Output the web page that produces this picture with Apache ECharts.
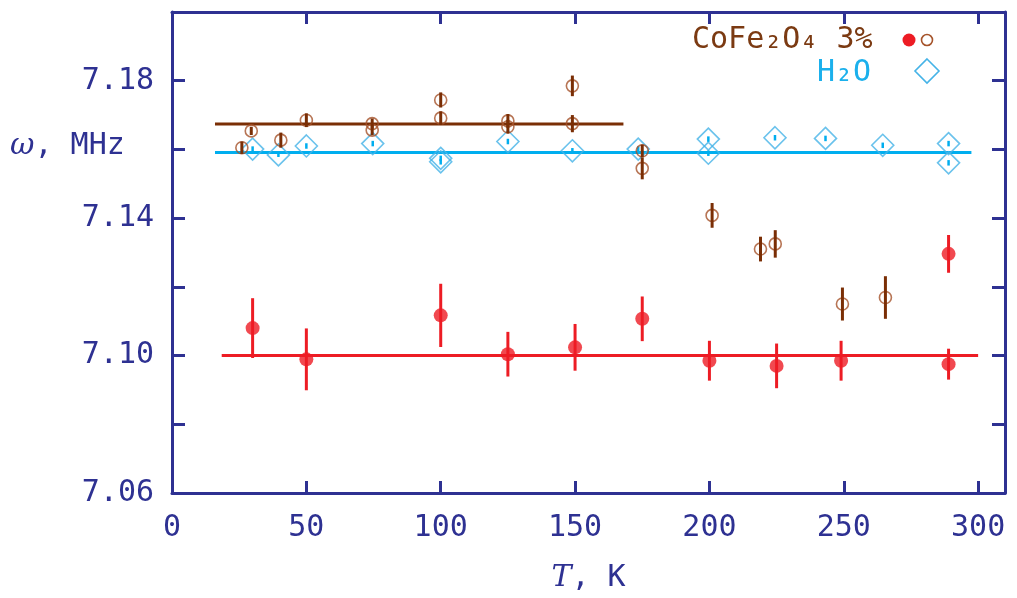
<!DOCTYPE html>
<html>
<head>
<meta charset="utf-8">
<script src="https://cdn.jsdelivr.net/npm/echarts@6/dist/echarts.min.js"></script>
<style>html,body{margin:0;padding:0;background:#fff}#c{width:1017px;height:598px}</style>
</head>
<body>
<div id="c"></div>
<script>
// ---- data ----
const xTicks = [0, 50, 100, 150, 200, 250, 300];
const yTickLabels = ['7.06', '7.10', '7.14', '7.18'];

// CoFe2O4 3% — filled (red)
const redT   = [30, 50, 100, 125, 150, 175, 200, 225, 249, 289, 289];
const redW   = [7.1080, 7.0989, 7.1117, 7.1004, 7.1024, 7.1107, 7.0985, 7.0970, 7.0985, 7.0975, 7.1296];
const redErr = [0.0087, 0.0090, 0.0092, 0.0065, 0.0068, 0.0065, 0.0058, 0.0065, 0.0058, 0.0045, 0.0055];

// CoFe2O4 3% — open (brown)
const brownT   = [26, 29.5, 40.5, 50, 74.5, 74.5, 100, 100, 125, 125, 149, 149, 175, 175, 201, 219, 224.5, 249.5, 265.5];
const brownW   = [7.1605, 7.1654, 7.1627, 7.1685, 7.1675, 7.1656, 7.1744, 7.1691, 7.1683, 7.1666, 7.1785, 7.1675, 7.1596, 7.1545, 7.1408, 7.1310, 7.1325, 7.1150, 7.1169];
const brownErr = [0.0018, 0.0012, 0.0022, 0.0020, 0.0015, 0.0015, 0.0022, 0.0020, 0.0020, 0.0020, 0.0030, 0.0025, 0.0018, 0.0032, 0.0036, 0.0036, 0.0040, 0.0048, 0.0062];

// H2O (cyan diamonds)
const cyanT   = [30, 39.6, 50, 74.7, 100, 100, 125, 149, 173.5, 199.6, 199.6, 224.4, 243.2, 264.5, 289, 289];
const cyanW   = [7.1601, 7.1584, 7.1610, 7.1617, 7.1574, 7.1564, 7.1623, 7.1596, 7.1601, 7.1630, 7.1589, 7.1634, 7.1632, 7.1612, 7.1617, 7.1561];
const cyanErr = [0.0008, 0.0006, 0.0008, 0.0008, 0.0008, 0.0008, 0.0008, 0.0008, 0.0008, 0.0008, 0.0008, 0.0008, 0.0008, 0.0008, 0.0008, 0.0008];

// horizontal mean lines: [Tstart, Tend], level
const redFitT = [18.5, 300],  redFitW = 7.1000;
const brownFitT = [16, 168],  brownFitW = 7.1674;
const cyanFitT = [16, 297.5], cyanFitW = 7.1591;

// ---- styles ----
const NAVY = '#2e3192';
const RED = '#ed1c24';
const BROWN = '#7a2e05';
const BROWN_C = '#a5532a';
const CYAN = '#00aeef';
const CYAN_D = '#45b3e7';
const MONO = '"DejaVu Sans Mono", "Liberation Mono", monospace';

const zip3 = (a, b, c) => a.map((v, i) => [v, b[i], c[i]]);
const zip2 = (a, b) => a.map((v, i) => [v, b[i]]);

function errBar(color, width) {
  return function (params, api) {
    const x = api.value(0), y = api.value(1), e = api.value(2);
    const p1 = api.coord([x, y + e]), p2 = api.coord([x, y - e]);
    return { type: 'line', shape: { x1: p1[0], y1: p1[1], x2: p2[0], y2: p2[1] },
             style: { stroke: color, lineWidth: width } };
  };
}

const chart = echarts.init(document.getElementById('c'), null, { renderer: 'canvas' });

const yFmt = v => {
  const s = v.toFixed(2);
  return yTickLabels.indexOf(s) >= 0 ? s : '';
};
const xFmt = v => (xTicks.indexOf(Math.round(v)) >= 0 && Math.abs(v - Math.round(v)) < 1e-6) ? String(Math.round(v)) : '';

const axisLineStyle = { show: true, onZero: false, lineStyle: { color: NAVY, width: 3 } };

const option = {
  animation: false,
  backgroundColor: '#fff',
  grid: { left: 172, right: 12, top: 12, bottom: 105, show: false },
  xAxis: [{
    type: 'value', min: 0, max: 310, interval: 50, position: 'bottom',
    axisLine: axisLineStyle,
    axisTick: { show: true, inside: true, length: 12, lineStyle: { color: NAVY, width: 3 } },
    axisLabel: { formatter: xFmt, color: NAVY, fontFamily: MONO, fontSize: 30, margin: 20, showMaxLabel: false },
    splitLine: { show: false },
    name: '{i|T}, K', nameLocation: 'middle', nameGap: 70,
    nameTextStyle: { color: NAVY, fontFamily: MONO, fontSize: 30,
      rich: { i: { fontFamily: '"DejaVu Serif", serif', fontStyle: 'italic', fontSize: 30, color: NAVY } } }
  }, {
    type: 'value', min: 0, max: 310, interval: 50, position: 'top',
    axisLine: axisLineStyle,
    axisTick: { show: true, inside: true, length: 12, lineStyle: { color: NAVY, width: 3 } },
    axisLabel: { show: false }, splitLine: { show: false }
  }],
  yAxis: [{
    type: 'value', min: 7.06, max: 7.20, interval: 0.02, position: 'left',
    axisLine: axisLineStyle,
    axisTick: { show: true, inside: true, length: 13, lineStyle: { color: NAVY, width: 3 } },
    axisLabel: { formatter: yFmt, color: NAVY, fontFamily: MONO, fontSize: 30, margin: 18 },
    splitLine: { show: false }
  }, {
    type: 'value', min: 7.06, max: 7.20, interval: 0.02, position: 'right',
    axisLine: axisLineStyle,
    axisTick: { show: true, inside: true, length: 13, lineStyle: { color: NAVY, width: 3 } },
    axisLabel: { show: false }, splitLine: { show: false }
  }],
  graphic: [
    { type: 'text', left: 10, top: 131, z: 100,
      style: { text: '{i|ω}, MHz', fill: NAVY, font: '30px ' + MONO,
        rich: { i: { fontFamily: '"DejaVu Serif", serif', fontStyle: 'italic', fontSize: 30, fill: NAVY, color: NAVY } } } },
    { type: 'text', x: 692, y: 40, z: 100,
      style: { text: 'CoFe₂O₄ 3%', fill: '#7b3a12', font: '30px ' + MONO, verticalAlign: 'middle' } },
    { type: 'text', x: 817, y: 73, z: 100,
      style: { text: 'H₂O', fill: '#1bb0ec', font: '30px ' + MONO, verticalAlign: 'middle' } },
    { type: 'circle', shape: { cx: 909, cy: 40, r: 6.5 }, style: { fill: RED }, z: 100 },
    { type: 'circle', shape: { cx: 927, cy: 40, r: 5.5 }, style: { fill: 'none', stroke: BROWN_C, lineWidth: 1.6 }, z: 100 },
    { type: 'polygon', shape: { points: [[927, 59], [939, 71], [927, 83], [915, 71]] },
      style: { fill: 'none', stroke: CYAN_D, lineWidth: 1.6 }, z: 100 }
  ],
  series: [
    { type: 'line', data: zip2(cyanFitT, [cyanFitW, cyanFitW]), symbol: 'none',
      lineStyle: { color: CYAN, width: 3 }, z: 2, silent: true },
    { type: 'line', data: zip2(brownFitT, [brownFitW, brownFitW]), symbol: 'none',
      lineStyle: { color: BROWN, width: 3 }, z: 2, silent: true },
    { type: 'line', data: zip2(redFitT, [redFitW, redFitW]), symbol: 'none',
      lineStyle: { color: RED, width: 3 }, z: 2, silent: true },

    { type: 'scatter', data: zip2(cyanT, cyanW), symbol: 'diamond', symbolSize: 22,
      itemStyle: { color: 'rgba(0,0,0,0)', borderColor: CYAN_D, borderWidth: 1.6 }, z: 3 },
    { type: 'custom', data: zip3(cyanT, cyanW, cyanErr), renderItem: errBar(CYAN, 2.5), z: 4 },

    { type: 'scatter', data: zip2(brownT, brownW), symbol: 'circle', symbolSize: 12,
      itemStyle: { color: 'rgba(0,0,0,0)', borderColor: BROWN_C, borderWidth: 1.6 }, z: 5 },
    { type: 'custom', data: zip3(brownT, brownW, brownErr), renderItem: errBar(BROWN, 3), z: 6 },

    { type: 'custom', data: zip3(redT, redW, redErr), renderItem: errBar(RED, 3), z: 7 },
    { type: 'scatter', data: zip2(redT, redW), symbol: 'circle', symbolSize: 14,
      itemStyle: { color: RED }, z: 8 }
  ]
};
chart.setOption(option);
</script>
</body>
</html>
